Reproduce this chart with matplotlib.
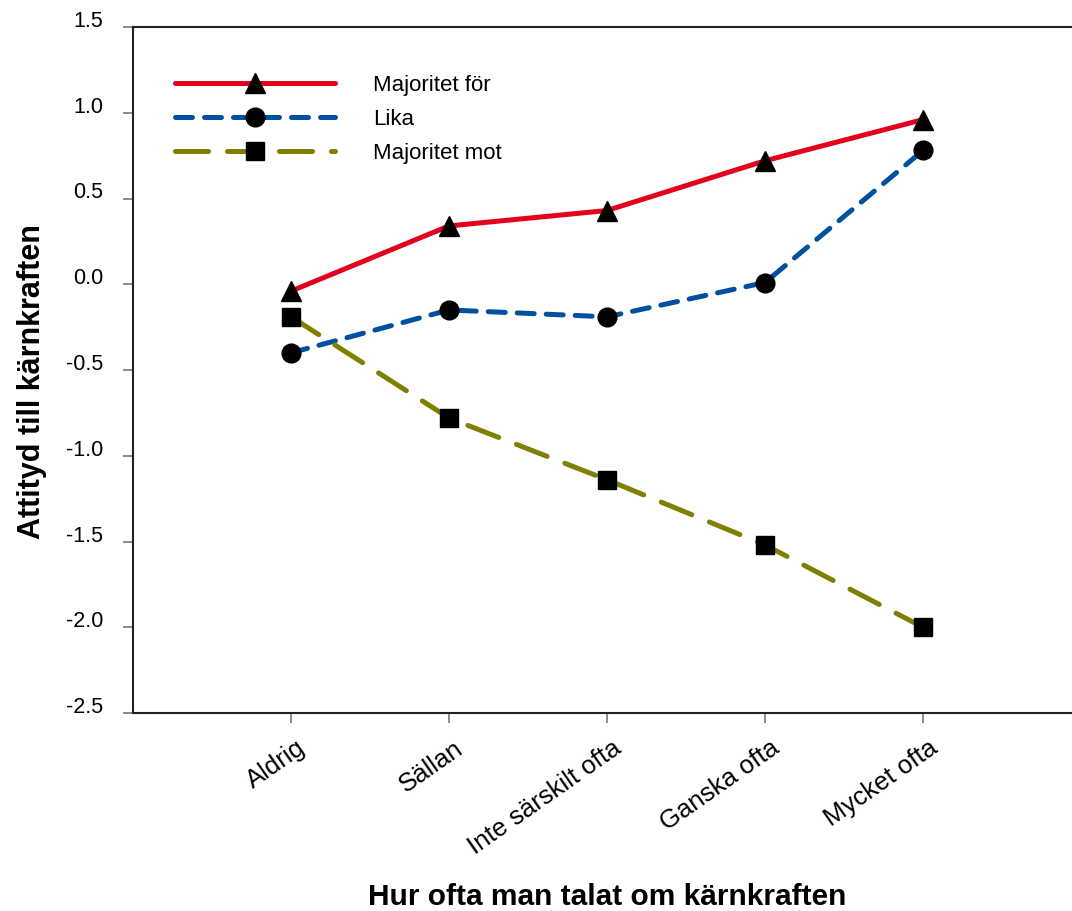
import matplotlib
matplotlib.use("Agg")
import matplotlib.pyplot as plt
import matplotlib.transforms as mtransforms
import numpy as np

plt.rcParams['font.family'] = ['Liberation Sans', 'DejaVu Sans']

# categories on the x axis
categories = ['Aldrig', 'Sällan', 'Inte särskilt ofta', 'Ganska ofta', 'Mycket ofta']

# attitude values
majoritet_for = [-0.04, 0.34, 0.43, 0.72, 0.96]
lika = [-0.40, -0.15, -0.19, 0.01, 0.78]
majoritet_mot = [-0.19, -0.78, -1.14, -1.52, -2.00]

yticks = [1.5, 1.0, 0.5, 0.0, -0.5, -1.0, -1.5, -2.0, -2.5]

fig = plt.figure(figsize=(10.72, 9.11), dpi=100)
ax = fig.add_axes([133/1072, 1 - 713/911, 1 - 133/1072, (713 - 27)/911])

x = np.arange(1, len(categories) + 1)

ax.plot(x, majoritet_for, color='#E3001B', linewidth=3.6, solid_capstyle='round',
        marker='^', markersize=15, markerfacecolor='black', markeredgecolor='black',
        label='Majoritet för', zorder=3)
ax.plot(x, lika, color='#0050A0', linewidth=3.6, linestyle=(0, (3.4, 2.4)),
        dash_capstyle='round', marker='o', markersize=13.5,
        markerfacecolor='black', markeredgecolor='black', label='Lika', zorder=3)
ax.plot(x, majoritet_mot, color='#808000', linewidth=3.6, linestyle=(0, (6.6, 3.8)),
        dash_capstyle='round', marker='s', markersize=12.5,
        markerfacecolor='black', markeredgecolor='black', label='Majoritet mot', zorder=3)

ax.set_xlim(0, (1072 - 133) / 158)
ax.set_ylim(-2.5, 1.5)

# spines: left, bottom, top kept, right off canvas
ax.spines['right'].set_visible(False)
for s in ['left', 'bottom', 'top']:
    ax.spines[s].set_color('#222222')
    ax.spines[s].set_linewidth(1.5)

ax.set_yticks(yticks)
ax.set_yticklabels([f'{v:.1f}' for v in yticks], fontsize=15.5)
for lab in ax.get_yticklabels():
    lab.set_va('baseline')
ax.tick_params(axis='y', length=7.5, width=1.2, color='#777777', pad=14)

ax.set_xticks(x)
ax.set_xticklabels(categories, fontsize=18.5, rotation=35, ha='right', va='top',
                   rotation_mode='anchor')
ax.tick_params(axis='x', length=7.5, width=1.2, color='#777777', pad=9)
offset = mtransforms.ScaledTranslation(5/100, 0, fig.dpi_scale_trans)
for lab in ax.get_xticklabels():
    lab.set_transform(lab.get_transform() + offset)

fig.text(607/1072, 1 - 905/911, 'Hur ofta man talat om kärnkraften',
         fontsize=21.5, fontweight='bold', ha='center', va='baseline')
fig.text(32/1072, 1 - 382/911, 'Attityd till kärnkraften', fontsize=22,
         fontweight='bold', rotation=90, ha='center', va='center')

ax.legend(loc='upper left', bbox_to_anchor=(175/1072, 1 - 75/911),
          bbox_transform=fig.transFigure, frameon=False, fontsize=16,
          handlelength=7.2, handletextpad=1.7, labelspacing=0.58,
          borderpad=0, borderaxespad=0, numpoints=1)

fig.savefig('out.png', dpi=100)
